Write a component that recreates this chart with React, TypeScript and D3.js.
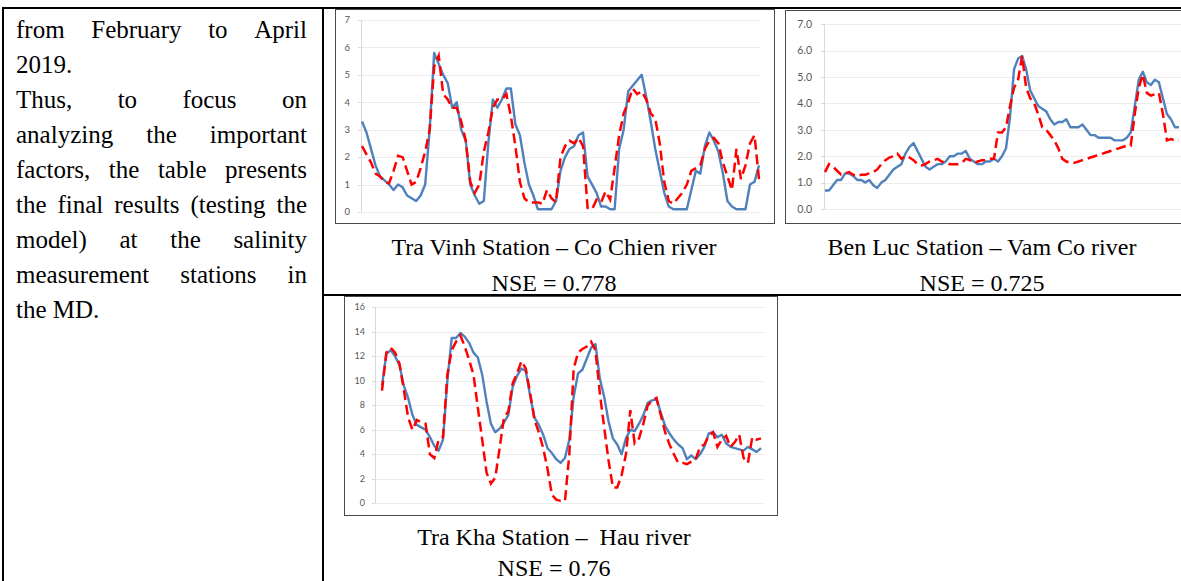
import { useEffect, useRef } from 'react'
import * as d3 from 'd3'

const WIDTH = 1181
const HEIGHT = 581

// Tra Vinh station (Co Chien river): measured (blue) vs simulated (red dashed)
const traVinhMeasured = [3.3, 2.9, 2.3, 1.7, 1.3, 1.15, 1.0, 0.8, 1.0, 0.9, 0.6, 0.5, 0.4, 0.6, 1.0, 3.0, 5.8, 5.4, 5.0, 4.7, 3.8, 4.0, 3.0, 2.6, 1.0, 0.6, 0.3, 0.4, 2.5, 4.1, 3.8, 4.1, 4.5, 4.5, 3.2, 2.8, 1.8, 1.0, 0.6, 0.1, 0.1, 0.1, 0.1, 0.4, 1.5, 2.0, 2.3, 2.4, 2.8, 2.9, 1.3, 1.0, 0.7, 0.2, 0.2, 0.1, 0.1, 2.3, 3.0, 4.4, 4.6, 4.8, 5.0, 4.2, 3.3, 2.3, 1.5, 0.7, 0.2, 0.1, 0.1, 0.1, 0.1, 0.8, 1.5, 1.4, 2.4, 2.9, 2.6, 2.2, 1.4, 0.4, 0.2, 0.1, 0.1, 0.1, 1.0, 1.1, 1.7]
const traVinhSimulated = [2.4, 2.1, 1.8, 1.4, 1.3, 1.1, 1.05, 1.5, 2.05, 2.0, 1.5, 1.0, 1.1, 1.6, 2.2, 3.0, 5.3, 5.7, 4.3, 4.1, 3.8, 3.8, 3.3, 2.6, 1.1, 0.7, 1.0, 2.2, 2.9, 3.8, 4.1, 4.1, 4.3, 3.5, 2.4, 1.1, 0.5, 0.35, 0.35, 0.35, 0.3, 0.8, 0.5, 0.35, 2.0, 2.4, 2.6, 2.5, 2.7, 2.4, 0.15, 0.1, 0.45, 0.35, 0.75, 0.45, 1.6, 2.8, 3.6, 4.0, 4.5, 4.3, 4.4, 4.1, 3.6, 3.4, 2.5, 1.1, 0.4, 0.3, 0.5, 0.7, 1.0, 1.5, 1.6, 1.7, 2.3, 2.6, 2.7, 2.5, 1.8, 1.3, 0.8, 2.3, 1.2, 1.7, 2.5, 2.8, 1.2]
const traVinhTicks = [0, 1, 2, 3, 4, 5, 6, 7]

// Ben Luc station (Vam Co river)
const benLucMeasured = [0.7, 0.7, 0.9, 1.1, 1.1, 1.35, 1.35, 1.25, 1.1, 1.1, 1.0, 1.1, 0.9, 0.8, 1.0, 1.1, 1.3, 1.5, 1.6, 1.7, 2.1, 2.35, 2.5, 2.2, 1.9, 1.6, 1.5, 1.6, 1.7, 1.7, 1.8, 2.0, 2.0, 2.1, 2.1, 2.2, 1.9, 1.8, 1.7, 1.7, 1.8, 1.8, 1.9, 1.8, 2.0, 2.3, 3.5, 5.3, 5.7, 5.8, 5.3, 4.5, 4.2, 3.9, 3.8, 3.7, 3.4, 3.2, 3.3, 3.3, 3.4, 3.1, 3.1, 3.1, 3.2, 3.0, 2.8, 2.8, 2.7, 2.7, 2.7, 2.7, 2.6, 2.6, 2.6, 2.7, 2.9, 3.9, 4.9, 5.2, 4.8, 4.7, 4.9, 4.8, 4.2, 3.6, 3.4, 3.1, 3.1]
const benLucSimulated = [1.4, 1.7, 1.6, 1.45, 1.3, 1.35, 1.4, 1.3, 1.25, 1.3, 1.3, 1.35, 1.4, 1.5, 1.7, 1.85, 1.95, 2.0, 2.1, 1.9, 2.0, 1.95, 1.85, 1.7, 1.65, 1.7, 1.8, 1.85, 1.9, 1.8, 1.75, 1.7, 1.7, 1.7, 1.75, 1.9, 1.85, 1.75, 1.8, 1.85, 1.85, 1.9, 1.9, 2.9, 2.9, 3.1, 3.9, 4.6, 4.9, 5.8, 4.6, 4.2, 4.0, 3.6, 3.1, 3.0, 2.8, 2.6, 2.3, 1.9, 1.8, 1.75, 1.75, 1.8, 1.85, 1.9, 1.95, 2.0, 2.05, 2.1, 2.15, 2.2, 2.25, 2.3, 2.35, 2.4, 2.4, 3.6, 4.6, 5.1, 4.4, 4.3, 4.35, 4.4, 3.6, 2.6, 2.65, 2.6, 2.6]
const benLucTicks = [0, 1, 2, 3, 4, 5, 6, 7]

// Tra Kha station (Hau river)
const traKhaMeasured = [9.6, 12.2, 12.5, 12.0, 11.3, 9.6, 8.6, 7.2, 6.4, 6.2, 6.0, 5.4, 4.7, 4.3, 5.2, 10.0, 13.5, 13.5, 13.9, 13.6, 13.1, 12.3, 11.9, 10.5, 8.3, 6.5, 5.8, 6.1, 6.6, 7.2, 9.5, 10.4, 11.0, 10.8, 8.8, 7.0, 6.4, 5.6, 4.5, 4.1, 3.6, 3.3, 3.7, 5.2, 8.7, 10.6, 10.9, 11.8, 12.7, 13.0, 10.2, 8.7, 6.7, 5.3, 4.8, 4.0, 5.3, 6.0, 5.9, 6.5, 7.2, 8.2, 8.4, 8.5, 7.4, 6.3, 5.7, 5.2, 4.8, 4.5, 3.6, 3.9, 3.6, 4.0, 4.6, 5.7, 5.8, 5.4, 5.6, 4.9, 4.6, 4.5, 4.4, 4.3, 4.6, 4.4, 4.2, 4.5]
const traKhaSimulated = [9.2, 12.3, 12.7, 12.3, 11.4, 9.3, 7.0, 6.0, 6.8, 6.6, 6.5, 4.0, 3.7, 5.2, 5.4, 10.5, 12.5, 13.2, 13.7, 12.8, 11.7, 10.5, 7.8, 5.2, 2.5, 1.6, 2.1, 4.5, 7.0, 7.5, 9.8, 10.6, 11.6, 11.0, 9.0, 6.8, 5.8, 4.5, 2.8, 0.7, 0.3, 0.2, 0.2, 4.0, 11.0, 12.3, 12.6, 12.8, 13.2, 12.5, 9.0, 6.2, 3.5, 1.3, 1.3, 2.3, 4.0, 7.6, 4.9, 5.3, 6.5, 8.0, 8.4, 8.6, 7.2, 5.8, 4.8, 4.0, 3.3, 3.3, 3.2, 3.4, 3.6, 4.6, 4.8, 5.5, 5.8, 4.6, 5.2, 5.5, 4.6, 5.0, 5.6, 3.7, 3.3, 5.4, 5.2, 5.3]
const traKhaTicks = [0, 2, 4, 6, 8, 10, 12, 14, 16]

const captions = [
  { title: 'Tra Vinh Station \u2013 Co Chien river', nse: 'NSE = 0.778' },
  { title: 'Ben Luc Station \u2013 Vam Co river', nse: 'NSE = 0.725' },
  { title: 'Tra Kha Station \u2013  Hau river', nse: 'NSE = 0.76' },
]

const paragraph = [
  { text: 'from February to April', justify: true },
  { text: '2019.', justify: false },
  { text: 'Thus, to focus on', justify: true },
  { text: 'analyzing the important', justify: true },
  { text: 'factors, the table presents', justify: true },
  { text: 'the final results (testing the', justify: true },
  { text: 'model) at the salinity', justify: true },
  { text: 'measurement stations in', justify: true },
  { text: 'the MD.', justify: false },
]

const BLUE = '#4f81bd'
const RED = '#ff0000'
const SERIF = '"Liberation Serif", "Times New Roman", serif'
const SANS = 'Lato, "Open Sans", sans-serif'

const panels = [
  {
    measured: traVinhMeasured, simulated: traVinhSimulated, ticks: traVinhTicks, yMax: 7, fmt: d3.format('d'),
    frame: { x: 335, y: 9, w: 439, h: 214 }, xRange: [362, 759], yRange: [212, 20],
    axisX: 361, gridEnd: 761, labelX: 350, fontSize: 9.5,
    caption: captions[0], capX: 554, capY: 255, nseY: 291,
  },
  {
    measured: benLucMeasured, simulated: benLucSimulated, ticks: benLucTicks, yMax: 7, fmt: d3.format('.1f'),
    frame: { x: 785, y: 10, w: 440, h: 213 }, xRange: [825, 1179], yRange: [209, 24.3],
    axisX: 824, gridEnd: 1200, labelX: 812, fontSize: 10.5,
    caption: captions[1], capX: 982, capY: 255, nseY: 291,
  },
  {
    measured: traKhaMeasured, simulated: traKhaSimulated, ticks: traKhaTicks, yMax: 16, fmt: d3.format('d'),
    frame: { x: 344, y: 296, w: 433, h: 219 }, xRange: [382, 761], yRange: [503.3, 307.3],
    axisX: 375, gridEnd: 764, labelX: 365, fontSize: 9,
    caption: captions[2], capX: 554, capY: 545, nseY: 576,
  },
]

function drawPanel(svg: any, p: any) {
  const g = svg.append('g')
  const f = p.frame

  g.append('rect')
    .attr('x', f.x + 0.5).attr('y', f.y + 0.5)
    .attr('width', f.w).attr('height', f.h)
    .attr('fill', '#fff').attr('stroke', '#4a4a4a').attr('stroke-width', 1)

  const x = d3.scaleLinear().domain([0, p.measured.length - 1]).range(p.xRange)
  const y = d3.scaleLinear().domain([0, p.yMax]).range(p.yRange)

  // horizontal gridlines
  g.selectAll('line.grid').data(p.ticks).join('line')
    .attr('class', 'grid')
    .attr('x1', p.axisX).attr('x2', p.gridEnd)
    .attr('y1', (d: number) => Math.round(y(d)) + 0.5)
    .attr('y2', (d: number) => Math.round(y(d)) + 0.5)
    .attr('stroke', '#ececec').attr('stroke-width', 1)

  // value axis + small ticks
  g.append('line')
    .attr('x1', p.axisX + 0.5).attr('x2', p.axisX + 0.5)
    .attr('y1', y(0)).attr('y2', y(p.yMax))
    .attr('stroke', '#d9d9d9')
  g.selectAll('line.tick').data(p.ticks).join('line')
    .attr('class', 'tick')
    .attr('x1', p.axisX - 3).attr('x2', p.axisX)
    .attr('y1', (d: number) => Math.round(y(d)) + 0.5)
    .attr('y2', (d: number) => Math.round(y(d)) + 0.5)
    .attr('stroke', '#d9d9d9')

  g.selectAll('text.lbl').data(p.ticks).join('text')
    .attr('class', 'lbl')
    .attr('x', p.labelX).attr('y', (d: number) => y(d))
    .attr('dy', '0.35em')
    .attr('text-anchor', 'end')
    .attr('font-family', SANS).attr('font-size', p.fontSize)
    .attr('fill', '#595959')
    .text((d: number) => p.fmt(d))

  const line = d3.line<number>().x((_, i) => x(i)).y(d => y(d))

  g.append('path').datum(p.measured)
    .attr('d', line)
    .attr('fill', 'none').attr('stroke', BLUE).attr('stroke-width', 2.4)
    .attr('stroke-linejoin', 'round')

  g.append('path').datum(p.simulated)
    .attr('d', line)
    .attr('fill', 'none').attr('stroke', RED).attr('stroke-width', 2.5)
    .attr('stroke-dasharray', '10,5')

  // caption under the chart
  const cap = svg.append('g')
    .attr('font-family', SERIF).attr('font-size', 24).attr('fill', '#000')
    .attr('text-anchor', 'middle')
  cap.append('text').attr('x', p.capX).attr('y', p.capY)
    .style('white-space', 'pre').text(p.caption.title)
  cap.append('text').attr('x', p.capX).attr('y', p.nseY).text(p.caption.nse)
}

export default function App() {
  const svgRef = useRef<SVGSVGElement>(null)

  useEffect(() => {
    if (!svgRef.current) return
    const svg = d3.select(svgRef.current)
    svg.selectAll('*').remove()

    svg.append('rect').attr('width', WIDTH).attr('height', HEIGHT).attr('fill', '#fff')

    panels.forEach(p => drawPanel(svg, p))

    // table rules
    const rules = svg.append('g').attr('stroke', '#000').attr('stroke-width', 2)
    rules.append('line').attr('x1', 2).attr('x2', WIDTH).attr('y1', 8).attr('y2', 8)
    rules.append('line').attr('x1', 3).attr('x2', 3).attr('y1', 7).attr('y2', HEIGHT)
    rules.append('line').attr('x1', 323).attr('x2', 323).attr('y1', 7).attr('y2', HEIGHT)
    rules.append('line').attr('x1', 323).attr('x2', WIDTH).attr('y1', 295).attr('y2', 295)

    // justified paragraph in the left cell
    const left = 16
    const right = 307
    const para = svg.append('g')
      .attr('font-family', SERIF).attr('font-size', 25).attr('fill', '#000')
    paragraph.forEach((ln, i) => {
      const yb = 38 + i * 35
      if (!ln.justify) {
        para.append('text').attr('x', left).attr('y', yb).text(ln.text)
        return
      }
      const words = ln.text.split(' ')
      const nodes = words.map(w => para.append('text').attr('y', yb).text(w))
      const widths = nodes.map(n => (n.node() as SVGTextElement).getComputedTextLength())
      const gap = (right - left - d3.sum(widths)) / (words.length - 1)
      let cx = left
      nodes.forEach((n, k) => {
        n.attr('x', cx)
        cx += widths[k] + gap
      })
    })
  }, [])

  return (
    <svg
      ref={svgRef}
      width={WIDTH}
      height={HEIGHT}
      style={{ position: 'absolute', left: 0, top: 0, display: 'block' }}
    />
  )
}
